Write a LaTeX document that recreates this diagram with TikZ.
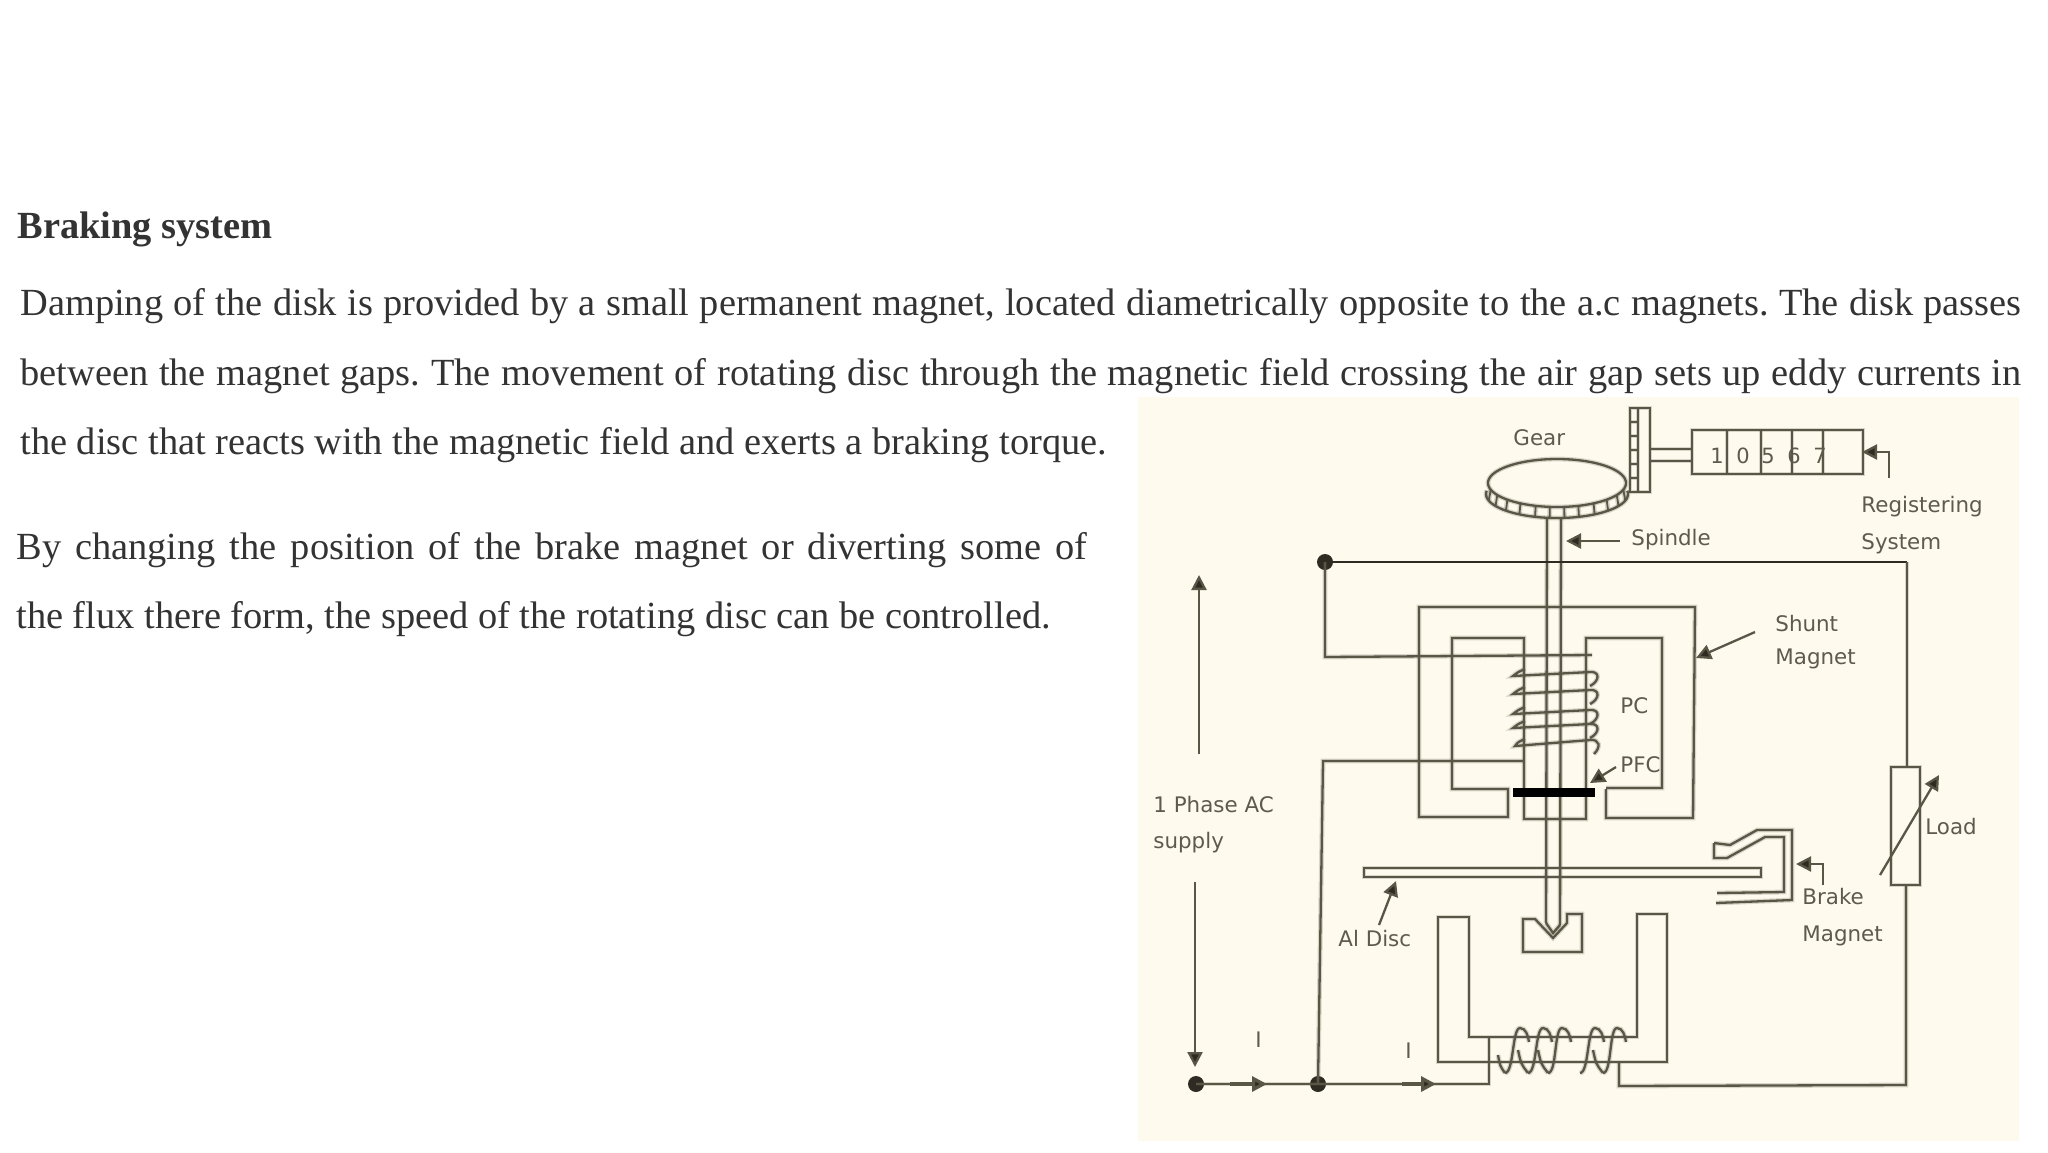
\documentclass[tikz,border=0pt]{standalone}
\usepackage{fontspec}
\setmainfont{Liberation Serif}
\newfontfamily\labelfont{DejaVu Sans}
\usetikzlibrary{arrows.meta}
\definecolor{paper}{HTML}{FEFBEE}
\definecolor{ink}{HTML}{5A5646}
\definecolor{darkwire}{HTML}{2E2C22}
\definecolor{lbl}{HTML}{5E5A4C}
\definecolor{body}{HTML}{333333}
\tikzset{
  x=0.5pt,y=-0.5pt,
  bodytext/.style={anchor=base west,inner sep=0pt,text=body,font=\fontsize{19.2}{22}\selectfont},
  lab/.style={anchor=base west,inner sep=0pt,text=lbl,font=\labelfont\fontsize{10.7}{12}\selectfont},
  wire/.style={draw=ink,line width=1.15pt,line join=miter,preaction={draw=ink,draw opacity=.22,line width=2.4pt}},
  dark/.style={draw=darkwire,line width=1.1pt},
  ptr/.style={draw=ink,line width=1.15pt,-{Triangle[length=7.5pt,width=7.5pt,fill=darkwire]}},
  junction/.style={circle,fill=darkwire,inner sep=0pt,minimum size=8pt}
}
\begin{document}
\frenchspacing
\begin{tikzpicture}
\useasboundingbox (0,0) rectangle (2048,1152);
\fill[white] (0,0) rectangle (2048,1152);
\fill[paper] (1138,397) rectangle (2019,1141);

% text
\node[bodytext] (title) at (17,238) {\textbf{Braking system}};
\node[bodytext] (l1) at (20,315) {\makebox[1000.5pt][s]{Damping of the disk is provided by a small permanent magnet, located diametrically opposite to the a.c magnets. The disk passes}};
\node[bodytext] (l2) at (20,385) {\makebox[1000.5pt][s]{between the magnet gaps. The movement of rotating disc through the magnetic field crossing the air gap sets up eddy currents in}};
\node[bodytext] (l3) at (20,454) {the disc that reacts with the magnetic field and exerts a braking torque.};
\node[bodytext] (l4) at (16,559) {\makebox[535.5pt][s]{By changing the position of the brake magnet or diverting some of}};
\node[bodytext] (l5) at (16,628) {the flux there form, the speed of the rotating disc can be controlled.};

% junctions
\node[junction] (jt) at (1325,562) {};
\node[junction] (ja) at (1196,1084) {};
\node[junction] (jb) at (1318,1084) {};
\coordinate (loadtop) at (1907,767);
\coordinate (loadbot) at (1906,885);

% gear
\draw[wire] plot[domain=0:360,samples=90,smooth,variable=\t] ({1557+69*cos(\t)},{483+24*sin(\t)});
\draw[wire] plot[domain=-8:188,samples=50,smooth,variable=\t] ({1557+71*cos(\t)},{494+24*sin(\t)});
\foreach \a in {16,30,44,58,72,84,96,108,122,136,150,164}
  \draw[wire,line width=.9pt] ({1557+69*cos(\a)},{483+24*sin(\a)}) -- ({1557+71*cos(\a)},{494+24*sin(\a)});
% rack
\draw[wire] (1630,408) rectangle (1650,492);
\draw[wire] (1638,408) -- (1638,492);
\foreach \y in {422,436,450,464,478}
  \draw[wire,line width=.9pt] (1630,\y) -- (1638,\y);
% shaft and counter
\draw[wire] (1650,449) -- (1692,449) (1650,461) -- (1692,461);
\draw[wire] (1692,430) rectangle (1863,474);
\foreach \x in {1727,1761,1792,1823}
  \draw[wire,line width=.9pt] (\x,430) -- (\x,475);
\foreach \x/\d/\n in {1717/1/da,1743/0/db,1768/5/dc,1794/6/dd,1820/7/de}
  \node[anchor=base,inner sep=0pt,text=lbl,font=\labelfont\fontsize{10.5}{12}\selectfont] (\n) at (\x,463) {\d};

% spindle
\draw[wire] (1547,518) -- (1546,923) (1561,518) -- (1560,925);
\draw[wire] (1546,923) -- (1553,933) -- (1560,925);
% pivot
\draw[wire] (1523,919) -- (1535,919) -- (1553,938) -- (1567,923) -- (1567,914) -- (1582,914) -- (1582,952) -- (1523,952) -- cycle;

% shunt magnet
\draw[wire] (1606,789) -- (1606,818) -- (1693,818) -- (1695,607) -- (1419,607) -- (1419,817) -- (1508,817) -- (1508,789) -- (1452,789) -- (1452,638) -- (1524,638) -- (1524,819) -- (1586,819) -- (1586,638) -- (1662,638) -- (1662,788) -- (1606,788);
% shunt coil
\foreach \y in {676,694,714,728}
  \draw[wire] (1525,\y-7) .. controls (1518,\y-4) .. (1513,\y) -- (1590,\y-4) .. controls (1600,\y-5) and (1600,\y+5) .. (1590,\y+10);
\draw[wire] (1525,739) .. controls (1518,742) .. (1515,746) -- (1590,740) .. controls (1600,739) and (1601,747) .. (1594,754);
\fill[black] (1513,788) rectangle (1595,797);

% disc
\draw[wire] (1364,868) -- (1761,868) -- (1761,877) -- (1364,877) -- cycle;

% wiring
\draw[dark] (jt.center) -- (1907,562);
\draw[wire] (1907,562) -- (loadtop);
\draw[wire] (jt.center) -- (1325,657) -- (1592,655);
\draw[wire] (jb.center) -- (1323,761) -- (1524,761);
\draw[wire] (ja.center) -- (1489,1084) -- (1489,1038);
\draw[wire] (1619,1062) -- (1619,1086) -- (1906,1085) -- (loadbot);
\draw[wire] (1891,767) rectangle (1920,885);
\draw[ptr] (1880,875) -- (1939,775);

% lower magnet
\draw[wire] (1438,917) -- (1469,917) -- (1469,1037) -- (1637,1037) -- (1637,914) -- (1667,914) -- (1667,1062) -- (1438,1062) -- cycle;
\draw[wire] (1498,1055) .. controls (1500,1066) .. (1505,1073);
\foreach \v/\t/\n in {1505/1520/1528,1528/1543/1548,1548/1562/1580,1580/1595/1603,1603/1617/1625}
  \draw[wire] (\v,1073) .. controls (\v+9,1073) and (\t-8,1028) .. (\t,1028) .. controls (\t+6,1028) and (\t+8,1036) .. (\t+9,1042);
\foreach \t/\n in {1520/1528,1543/1548,1595/1603}
  \draw[wire] (\n-10,1050) .. controls (\n-7,1064) .. (\n,1073);

% pointers
\coordinate (upt) at (1199,754); \coordinate (upe) at (1199,575);
\coordinate (dnt) at (1195,882); \coordinate (dne) at (1195,1067);
\draw[ptr] (upt) -- (upe);
\draw[ptr] (dnt) -- (dne);
\draw[ptr,line width=1.6pt] (1230,1084) -- (1267,1084);
\draw[ptr,line width=1.6pt] (1402,1084) -- (1436,1084);
\draw[ptr] (1620,541) -- (1566,541);
\draw[ptr] (1755,632) -- (1696,658);
\draw[ptr] (1616,767) -- (1590,783);
\draw[ptr] (1379,925) -- (1396,881);
\draw[ptr] (1889,478) -- (1889,452) -- (1862,452);
\draw[ptr] (1823,885) -- (1823,864) -- (1796,864);

% brake magnet
\draw[wire] (1714,843) -- (1714,858) -- (1727,858) -- (1765,837) -- (1784,837) -- (1784,892) -- (1717,893);
\draw[wire] (1714,843) -- (1730,845) -- (1757,830) -- (1792,830) -- (1792,900) -- (1716,903);

% labels
\node[lab] (gear) at (1513,445) {Gear};
\node[lab] (spin) at (1631,545) {Spindle};
\node[lab] (reg) at (1861,512) {Registering};
\node[lab] (sys) at (1861,549) {System};
\node[lab] (sh) at (1775,631) {Shunt};
\node[lab] (mag) at (1775,664) {Magnet};
\node[lab] (pc) at (1620,713) {PC};
\node[lab] (pfc) at (1620,772) {PFC};
\node[lab] (load) at (1925,834) {Load};
\node[lab] (brk) at (1802,904) {Brake};
\node[lab] (bmag) at (1802,941) {Magnet};
\node[lab] (al) at (1338,946) {Al Disc};
\node[lab] (ph) at (1153,812) {1 Phase AC};
\node[lab] (sup) at (1153,848) {supply};
\node[lab] (i1) at (1255,1047) {I};
\node[lab] (i2) at (1405,1058) {I};
\end{tikzpicture}
\end{document}
